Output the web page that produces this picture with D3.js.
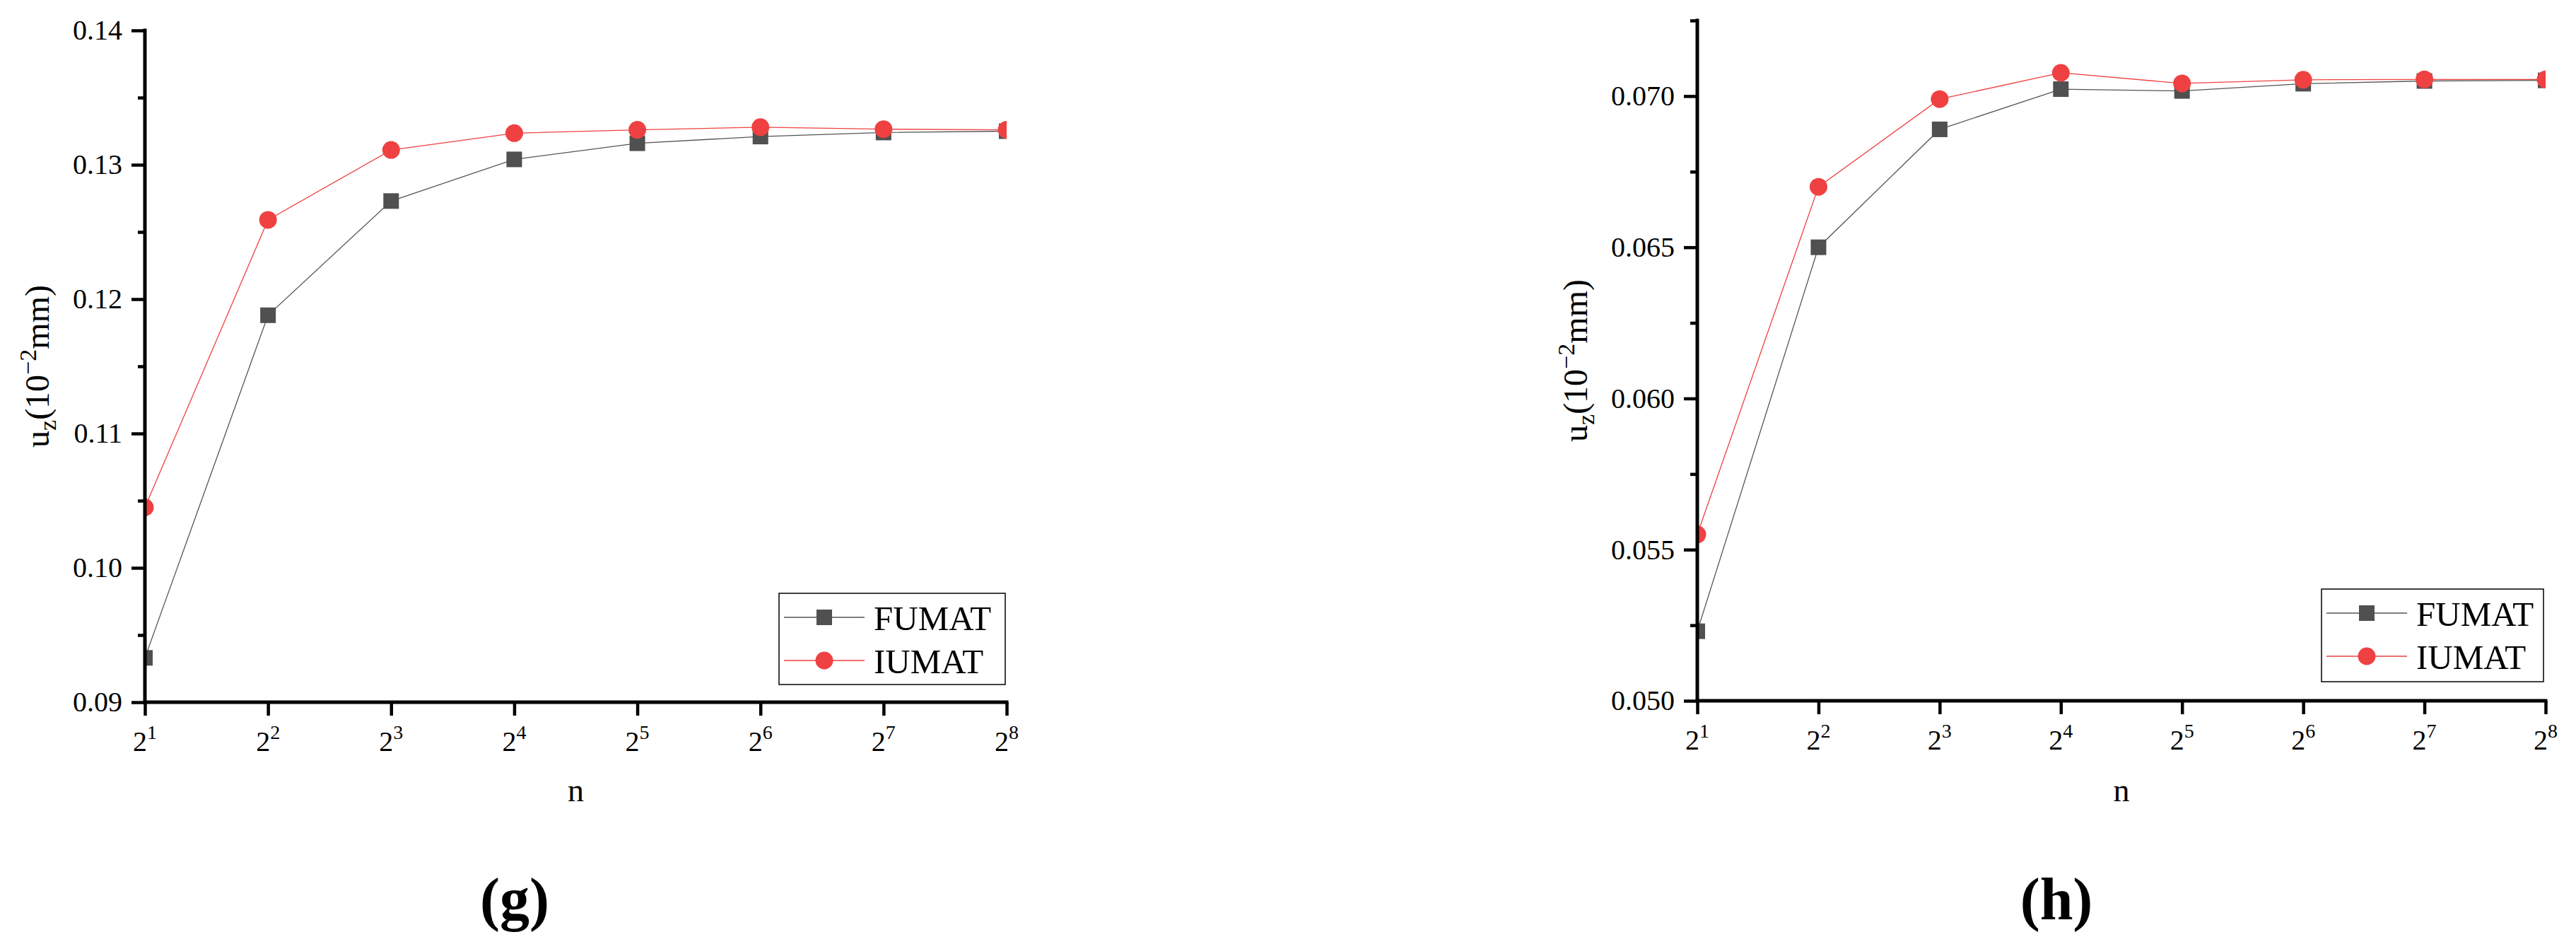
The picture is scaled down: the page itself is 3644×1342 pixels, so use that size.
<!DOCTYPE html>
<html><head><meta charset="utf-8">
<script src="https://cdn.jsdelivr.net/npm/d3@7"></script>
<style>
body{margin:0;background:#fff}svg{display:block}
</style>
</head><body>
<svg id="c" width="3644" height="1342" style="font-family:'Liberation Serif'"></svg>
<script>
// ---- data ----
const exponents = [1, 2, 3, 4, 5, 6, 7, 8];           // n = 2^e
const seriesNames = ["FUMAT", "IUMAT"];
const gFUMAT = [0.0933, 0.1188, 0.1273, 0.1304, 0.1316, 0.1321, 0.1324, 0.1325];
const gIUMAT = [0.1045, 0.1259, 0.1311, 0.13235, 0.1326, 0.1328, 0.13265, 0.1326];
const hFUMAT = [0.0523, 0.0650, 0.0689, 0.07023, 0.07017, 0.07041, 0.0705, 0.07052];
const hIUMAT = [0.0555, 0.0670, 0.0699, 0.07077, 0.07042, 0.07054, 0.07055, 0.07055];
const gYDomain = [0.09, 0.14];
const gYTicks = [0.09, 0.10, 0.11, 0.12, 0.13, 0.14];
const gYMinor = [0.095, 0.105, 0.115, 0.125, 0.135];
const hYDomain = [0.050, 0.0725];
const hYTicks = [0.050, 0.055, 0.060, 0.065, 0.070];
const hYMinor = [0.0525, 0.0575, 0.0625, 0.0675, 0.0725];
const captions = ["(g)", "(h)"];
const xTitle = "n";

// ---- style ----
const FONT = '"Liberation Serif"';
const GRAY = "#505050", GRAY_LINE = "#555555", RED = "#ef4141";

const svg = d3.select("#c");

function panel(cfg) {
  const x = d3.scaleLinear().domain([exponents[0], exponents[exponents.length - 1]]).range([cfg.x0, cfg.x1]);
  const y = d3.scaleLinear().domain(cfg.yDomain).range([cfg.yB, cfg.yT]);
  const g = svg.append("g");

  const cid = "clip" + cfg.id;
  svg.append("defs").append("clipPath").attr("id", cid)
    .append("rect").attr("x", cfg.x0).attr("y", 0).attr("width", cfg.x1 - cfg.x0).attr("height", 1342);

  const plot = g.append("g").attr("clip-path", `url(#${cid})`);
  const line = d3.line().x((d, i) => x(exponents[i])).y(d => y(d));
  const series = [
    { name: seriesNames[0], vals: cfg.f, color: GRAY, lc: GRAY_LINE, shape: "sq" },
    { name: seriesNames[1], vals: cfg.i, color: RED, lc: RED, shape: "ci" }
  ];
  series.forEach(s => {
    plot.append("path").attr("d", line(s.vals)).attr("fill", "none")
      .attr("stroke", s.lc).attr("stroke-width", 1.3);
  });
  series.forEach(s => {
    if (s.shape === "sq") {
      plot.selectAll(null).data(s.vals).enter().append("rect")
        .attr("x", (d, i) => x(exponents[i]) - 11).attr("y", d => y(d) - 11)
        .attr("width", 22).attr("height", 22).attr("fill", s.color);
    } else {
      plot.selectAll(null).data(s.vals).enter().append("circle")
        .attr("cx", (d, i) => x(exponents[i])).attr("cy", d => y(d)).attr("r", 12.5)
        .attr("fill", s.color);
    }
  });

  const yAx = d3.axisLeft(y).tickValues(cfg.yTicks).tickSize(19).tickPadding(13)
    .tickFormat(d3.format(cfg.fmt));
  const yAxMin = d3.axisLeft(y).tickValues(cfg.yMinor).tickSize(10).tickFormat("");
  const xAx = d3.axisBottom(x).tickValues(exponents).tickSize(19).tickFormat("");

  const ga = g.append("g").attr("transform", `translate(${cfg.x0},0)`).call(yAx);
  g.append("g").attr("transform", `translate(${cfg.x0},0)`).call(yAxMin);
  g.append("g").attr("transform", `translate(0,${cfg.yB})`).call(xAx);
  g.selectAll(".domain").remove();
  g.selectAll(".tick line").attr("stroke", "#000").attr("stroke-width", 4.5);
  ga.attr("font-family", null);
  ga.selectAll(".tick text").style("font-family", FONT).attr("font-size", 40).attr("fill", "#000");
  g.append("line").attr("x1", cfg.x0).attr("x2", cfg.x0).attr("y1", cfg.yT).attr("y2", cfg.yB)
    .attr("stroke", "#000").attr("stroke-width", 5).attr("stroke-linecap", "square");
  g.append("line").attr("x1", cfg.x0).attr("x2", cfg.x1).attr("y1", cfg.yB).attr("y2", cfg.yB)
    .attr("stroke", "#000").attr("stroke-width", 5).attr("stroke-linecap", "square");

  exponents.forEach(e => {
    const t = g.append("text").attr("x", x(e)).attr("y", cfg.yB + 69).style("font-family", FONT)
      .attr("text-anchor", "middle").attr("font-size", 40).attr("fill", "#000");
    t.append("tspan").text("2");
    t.append("tspan").attr("dy", -17).attr("font-size", 28).text(e);
  });

  g.append("text").attr("x", (cfg.x0 + cfg.x1) / 2).attr("y", 1133).attr("text-anchor", "middle")
    .style("font-family", FONT).attr("font-size", 46).text(xTitle);

  const yt = g.append("text")
    .attr("transform", `translate(${cfg.titleX},${(cfg.yT + cfg.yB) / 2}) rotate(-90)`)
    .style("font-family", FONT).attr("text-anchor", "middle").attr("font-size", 48).attr("fill", "#000");
  yt.append("tspan").text("u");
  yt.append("tspan").attr("dy", 10).attr("font-size", 34).text("z");
  yt.append("tspan").attr("dy", -10).text("(10");
  yt.append("tspan").attr("dy", -18).attr("font-size", 34).text("\u22122");
  yt.append("tspan").attr("dy", 18).text("mm)");

  const L = cfg.leg;
  const lg = g.append("g");
  lg.append("rect").attr("x", L.x).attr("y", L.y).attr("width", L.w).attr("height", L.h)
    .attr("fill", "#fff").attr("stroke", "#000").attr("stroke-width", 1.5);
  series.forEach((s, k) => {
    const cy = L.y + 34 + k * 61;
    lg.append("line").attr("x1", L.x + 7).attr("x2", L.x + 121).attr("y1", cy).attr("y2", cy)
      .attr("stroke", s.lc).attr("stroke-width", 1.5);
    if (s.shape === "sq") lg.append("rect").attr("x", L.x + 64 - 11).attr("y", cy - 11)
      .attr("width", 22).attr("height", 22).attr("fill", s.color);
    else lg.append("circle").attr("cx", L.x + 64).attr("cy", cy).attr("r", 12.5).attr("fill", s.color);
    lg.append("text").attr("x", L.x + 134).attr("y", cy + 18).style("font-family", FONT)
      .attr("font-size", 49).attr("fill", "#000").text(s.name);
  });

  g.append("text").attr("x", cfg.capX).attr("y", 1300).attr("text-anchor", "middle")
    .style("font-family", FONT).attr("font-weight", "bold").attr("font-size", 84).text(cfg.cap);
}

panel({ id: "g", x0: 205, x1: 1424, yT: 43, yB: 993, yDomain: gYDomain, yTicks: gYTicks, yMinor: gYMinor,
  fmt: ".2f", f: gFUMAT, i: gIUMAT, titleX: 69,
  leg: { x: 1102, y: 839, w: 320, h: 129 }, cap: captions[0], capX: 728 });
panel({ id: "h", x0: 2401, x1: 3601, yT: 29, yB: 991, yDomain: hYDomain, yTicks: hYTicks, yMinor: hYMinor,
  fmt: ".3f", f: hFUMAT, i: hIUMAT, titleX: 2245,
  leg: { x: 3284, y: 833, w: 314, h: 131 }, cap: captions[1], capX: 2909 });
</script>
</body></html>
